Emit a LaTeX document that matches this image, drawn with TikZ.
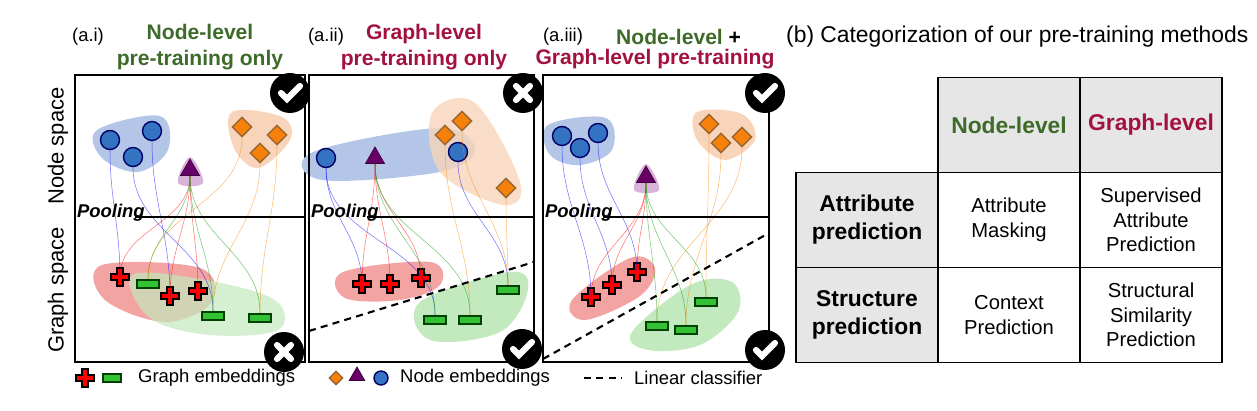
\documentclass[tikz,border=0pt]{standalone}
\usepackage{fontspec}
\setmainfont{Liberation Sans}
\usetikzlibrary{positioning,shapes.geometric}
\definecolor{nodegreen}{HTML}{3E6B2A}
\definecolor{graphred}{HTML}{A3123F}
\definecolor{blobblue}{HTML}{B4C6E7}
\definecolor{blobora}{HTML}{F8D5BA}
\definecolor{blobred}{HTML}{F4A3A3}
\definecolor{blobgreen}{HTML}{C2EABE}
\definecolor{cellgray}{HTML}{E6E6E6}

\newcommand{\plusmk}[3]{%
  \coordinate (#1) at (#2,#3);
  \fill[red,draw=black,line width=1.2pt,shift={(#2,#3)}]
    (-3,-9)--(3,-9)--(3,-3)--(9,-3)--(9,3)--(3,3)--(3,9)--(-3,9)--(-3,3)--(-9,3)--(-9,-3)--(-3,-3)--cycle;}
\newcommand{\badge}[4]{% name, x, y, check(1)/cross(0)
  \node[circle,fill=black,minimum size=40*0.02cm,inner sep=0pt] (#1) at (#2,#3) {};
  \ifnum#4=1
    \draw[white,line width=3.5pt,line cap=round] ([shift={(-9,0)}]#1.center)--([shift={(-3,6)}]#1.center)--([shift={(10,-7)}]#1.center);
  \else
    \draw[white,line width=3.5pt,line cap=round] ([shift={(-7,-7)}]#1.center)--([shift={(7,7)}]#1.center)
      ([shift={(-7,7)}]#1.center)--([shift={(7,-7)}]#1.center);
  \fi}

\begin{document}
\begin{tikzpicture}[x=0.02cm,y=-0.02cm,
    blu/.style={circle,fill=blue!55!cyan!70!black!80,draw=blue!40!black,line width=0.8pt,minimum size=19*0.02cm,inner sep=0pt},
    ora/.style={diamond,fill=orange!85!brown,draw=brown!80!black,line width=0.8pt,minimum size=20*0.02cm,inner sep=0pt},
    tri/.style={regular polygon,regular polygon sides=3,fill=violet!80!black,draw=violet!50!black,minimum size=22*0.02cm,inner sep=0pt},
    bar/.style={rectangle,fill=green!70!black!80,draw=green!25!black,line width=1.2pt,minimum width=22*0.02cm,minimum height=8*0.02cm,inner sep=0pt},
    box/.style={draw=black,line width=0.9pt},
    ln/.style={line width=0.3pt,opacity=0.55},
    lab/.style={font=\fontsize{10.5}{12}\selectfont},
    pool/.style={font=\bfseries\itshape\fontsize{10.5}{12}\selectfont,anchor=west,inner sep=1pt},
    ttl/.style={font=\bfseries\fontsize{12}{14.5}\selectfont,align=center},
    cell/.style={draw=black,line width=0.8pt,minimum width=142*0.02cm,minimum height=95*0.02cm,align=center,inner sep=2pt,font=\fontsize{11.5}{14}\selectfont},
    hcell/.style={cell,fill=cellgray,font=\bfseries\fontsize{13}{16}\selectfont}
]
\useasboundingbox (0,0) rectangle (1257,411);

% ---- panel (a.i)
\fill[blobblue] plot[smooth cycle,tension=0.6] coordinates {(97,130) (160,116) (168,150) (138,172) (102,158)};
\fill[blobora] plot[smooth cycle,tension=0.6] coordinates {(232,112) (282,117) (290,140) (258,168) (234,148)};
\fill[violet!30] plot[smooth cycle,tension=0.6] coordinates {(178,183) (190,157) (203,183)};
\fill[blobred] plot[smooth cycle,tension=0.6] coordinates {(102,265) (200,268) (212,302) (165,322) (105,300)};
\fill[blobgreen,opacity=0.7] plot[smooth cycle,tension=0.6] coordinates {(132,275) (205,280) (275,300) (278,330) (210,335) (150,318)};
\node[blu] (b1a) at (110,140) {};
\node[blu] (b1b) at (152,131) {};
\node[blu] (b1c) at (133,157) {};
\node[tri] (t1) at (190,170) {};
\node[ora] (o1a) at (242,127) {};
\node[ora] (o1b) at (277,135) {};
\node[ora] (o1c) at (260,153) {};
\node[bar] (g1a) at (148,284) {};
\node[bar] (g1b) at (213,316) {};
\node[bar] (g1c) at (260,318) {};
\plusmk{p1a}{120}{277}
\plusmk{p1b}{170}{296}
\plusmk{p1c}{198}{291}
\foreach \s/\e/\c in {b1a/p1a/blue,b1b/p1b/blue,b1c/g1b/blue,t1/p1a/red,t1/p1b/red,t1/p1c/red,t1/g1a/green!60!black,t1/g1b/green!60!black,t1/g1c/green!60!black,o1a/g1a/orange,o1b/g1c/orange,o1c/g1b/orange}
  \draw[ln,\c] (\s) to[out=-90,in=90] (\e);
\draw[box] (75,75) rectangle (305,362);
\draw[line width=1.2pt] (135,217)--(305,217);
\node[pool] (pl1) at (75,213) {Pooling};
\badge{k1}{290}{93}{1}
\badge{x1}{284}{352}{0}

% ---- panel (a.ii)
\fill[blobblue] plot[smooth cycle,tension=0.6] coordinates {(313,152) (440,128) (475,150) (440,172) (322,180)};
\fill[blobora,opacity=0.8] plot[smooth cycle,tension=0.6] coordinates {(432,113) (475,103) (520,182) (503,205) (440,172)};
\node[blu] (b2a) at (326,158) {};
\node[blu] (b2b) at (458,152) {};
\node[tri] (t2) at (375,158) {};
\node[ora] (o2a) at (445,135) {};
\node[ora] (o2b) at (462,121) {};
\node[ora] (o2c) at (506,188) {};
\fill[blobred] plot[smooth cycle,tension=0.6] coordinates {(343,272) (430,262) (440,285) (400,300) (345,298)};
\fill[blobgreen] plot[smooth cycle,tension=0.6] coordinates {(420,302) (510,272) (528,290) (500,332) (430,340)};
\node[bar] (g2a) at (435,320) {};
\node[bar] (g2b) at (470,320) {};
\node[bar] (g2c) at (508,290) {};
\plusmk{p2a}{362}{284}
\plusmk{p2b}{390}{284}
\plusmk{p2c}{421}{278}
\foreach \s/\e/\c in {b2a/p2a/blue,b2a/g2a/blue,t2/p2a/red,t2/p2b/red,t2/p2c/red,t2/g2a/green!60!black,t2/g2b/green!60!black,b2b/g2c/blue,o2a/g2b/orange,o2b/g2c/orange,o2c/g2c/orange}
  \draw[ln,\c] (\s) to[out=-90,in=90] (\e);
\draw[box] (309,75) rectangle (534,362);
\draw[line width=1.2pt] (367,217)--(534,217);
\node[pool] (pl2) at (309,213) {Pooling};
\coordinate (d2a) at (309,331);
\coordinate (d2b) at (534,262);
\draw[line width=1.2pt,dash pattern=on 4pt off 3pt] (d2a)--(d2b);
\badge{x2}{523}{93}{0}
\badge{k2}{522}{349}{1}

% ---- panel (a.iii)
\fill[blobblue] plot[smooth cycle,tension=0.6] coordinates {(548,125) (606,118) (612,150) (580,165) (550,155)};
\fill[blobora] plot[smooth cycle,tension=0.6] coordinates {(697,112) (742,114) (755,140) (725,160) (697,140)};
\fill[violet!30] plot[smooth cycle,tension=0.6] coordinates {(634,190) (646,164) (659,190)};
\node[blu] (b3a) at (562,136) {};
\node[blu] (b3b) at (580,148) {};
\node[blu] (b3c) at (598,133) {};
\node[tri] (t3) at (646,177) {};
\node[ora] (o3a) at (709,124) {};
\node[ora] (o3b) at (721,143) {};
\node[ora] (o3c) at (742,137) {};
\fill[blobred] plot[smooth cycle,tension=0.6] coordinates {(572,300) (630,258) (655,268) (640,296) (585,320)};
\fill[blobgreen] plot[smooth cycle,tension=0.6] coordinates {(632,332) (690,285) (732,282) (738,312) (700,345) (648,350)};
\node[bar] (g3a) at (657,326) {};
\node[bar] (g3b) at (686,330) {};
\node[bar] (g3c) at (706,302) {};
\plusmk{p3a}{591}{297}
\plusmk{p3b}{612}{285}
\plusmk{p3c}{637}{272}
\foreach \s/\e/\c in {b3a/p3a/blue,b3b/p3b/blue,b3c/p3c/blue,t3/p3a/red,t3/p3b/red,t3/p3c/red,t3/g3a/green!60!black,t3/g3b/green!60!black,t3/g3c/green!60!black,o3a/g3c/orange,o3b/g3b/orange,o3c/g3a/orange}
  \draw[ln,\c] (\s) to[out=-90,in=90] (\e);
\draw[box] (543,75) rectangle (769,362);
\draw[line width=1.2pt] (603,217)--(769,217);
\node[pool] (pl3) at (543,213) {Pooling};
\coordinate (d3a) at (543,359);
\coordinate (d3b) at (769,233);
\draw[line width=1.2pt,dash pattern=on 4pt off 3pt] (d3a)--(d3b);
\badge{k3a}{765}{93}{1}
\badge{k3b}{765}{350}{1}

% ---- side labels and titles
\node[rotate=90,font=\fontsize{12.5}{15}\selectfont] (ns) at (58,146) {Node space};
\node[rotate=90,font=\fontsize{12.5}{15}\selectfont] (gs) at (58,290) {Graph space};
\node[lab] (ai) at (88,37) {(a.i)};
\node[ttl,text=nodegreen] (t1t) at (200,47) {Node-level\\pre-training only};
\node[lab] (aii) at (326,37) {(a.ii)};
\node[ttl,text=graphred] (t2t) at (424,47) {Graph-level\\pre-training only};
\node[lab] (aiii) at (563,37) {(a.iii)};
\node[ttl,text=nodegreen,anchor=west] (t3a) at (610,37) {Node-level \textcolor{black}{+}};
\node[ttl,text=graphred] (t3b) at (655,59) {Graph-level pre-training};

% ---- legend
\plusmk{lg1}{85}{378}
\node[bar,minimum width=18*0.02cm] (lg2) at (112,378) {};
\node[lab,anchor=west] (lgt1) at (132,378) {Graph embeddings};
\node[ora,minimum size=14*0.02cm] (lg3) at (336,378) {};
\node[tri,minimum size=18*0.02cm] (lg4) at (357,376) {};
\node[blu,minimum size=14*0.02cm] (lg5) at (381,378) {};
\node[lab,anchor=west] (lgt2) at (394,378) {Node embeddings};
\coordinate (lg6) at (584,378);
\coordinate (lg7) at (622,378);
\draw[line width=1.2pt,dash pattern=on 4pt off 3pt] (lg6)--(lg7);
\node[lab,anchor=west] (lgt3) at (628,378) {Linear classifier};

% ---- table (b)
\node[font=\fontsize{13}{15}\selectfont,anchor=west] (bt) at (780,37) {(b) Categorization of our pre-training methods};
\node[hcell,text=nodegreen] (h1) at (1009,125) {Node-level};
\node[hcell,text=graphred] (h2) at (1151,125) {Graph-level};
\node[hcell] (r1) at (867,220) {Attribute\\prediction};
\node[cell] (c11) at (1009,220) {Attribute\\Masking};
\node[cell] (c12) at (1151,220) {Supervised\\Attribute\\Prediction};
\node[hcell] (r2) at (867,315) {Structure\\prediction};
\node[cell] (c21) at (1009,315) {Context\\Prediction};
\node[cell] (c22) at (1151,315) {Structural\\Similarity\\Prediction};
\end{tikzpicture}
\end{document}
